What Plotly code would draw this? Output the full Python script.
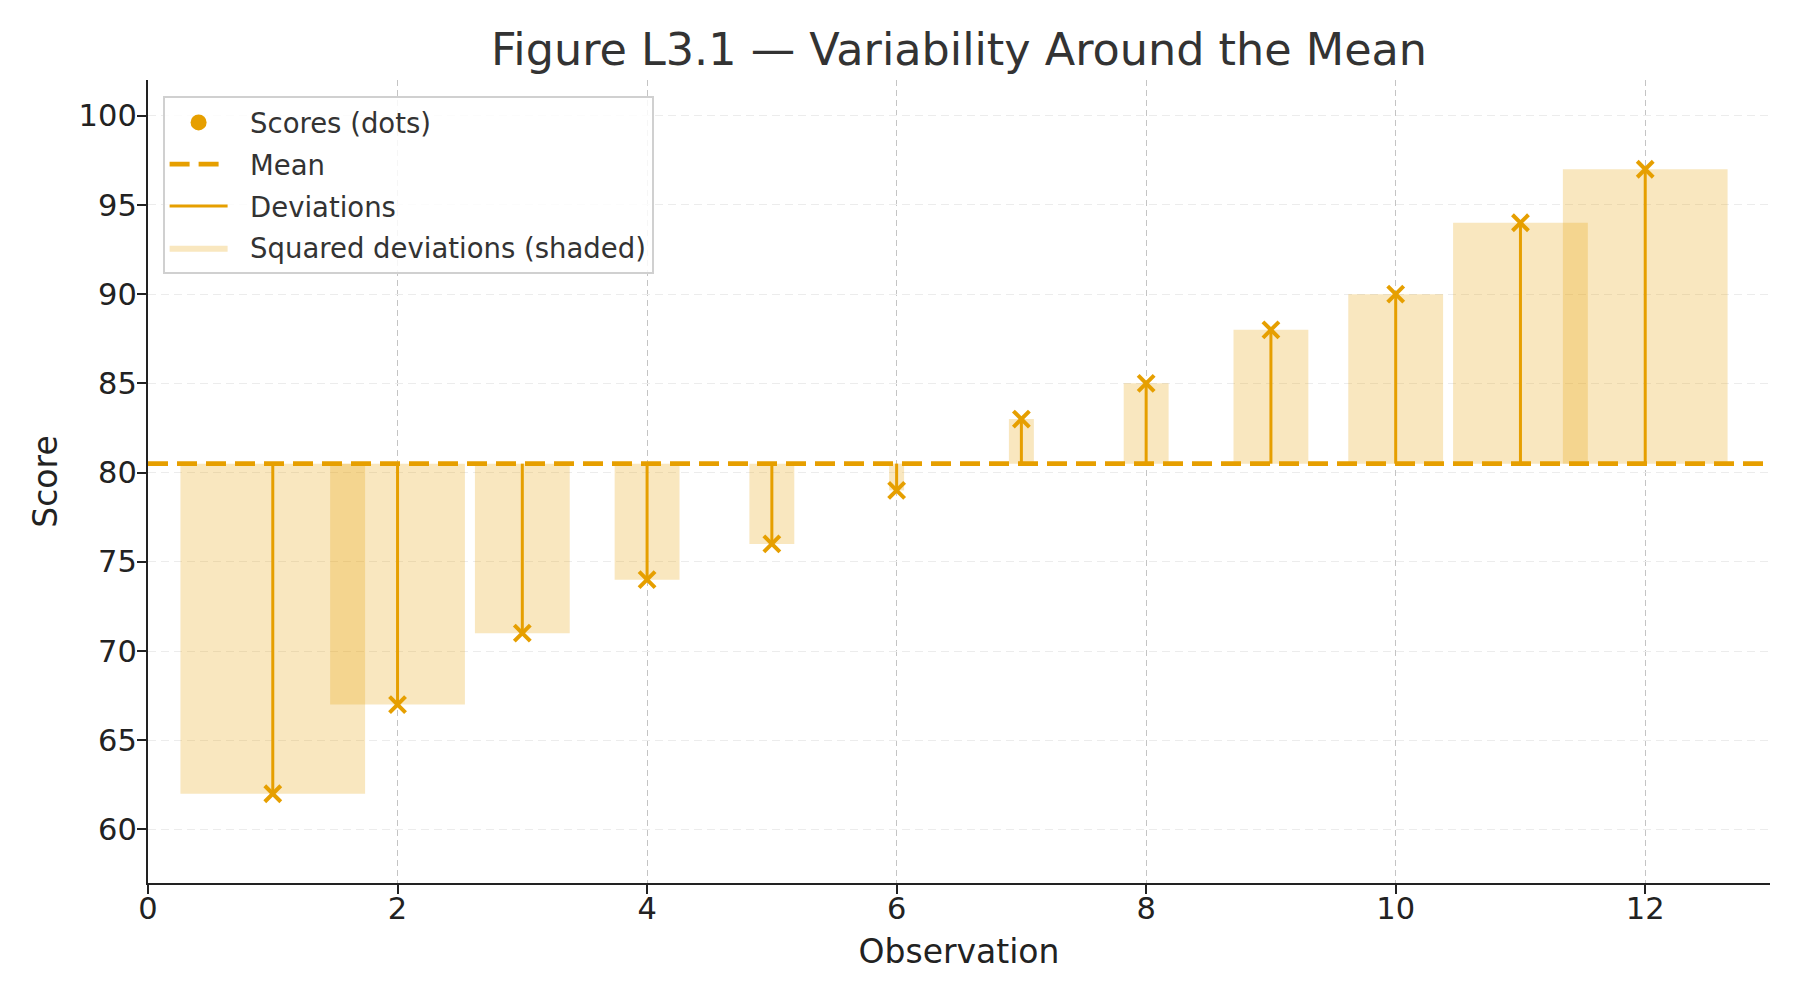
import numpy as np
import plotly.graph_objects as go

# ---- data ----
observations = [1, 2, 3, 4, 5, 6, 7, 8, 9, 10, 11, 12]
scores = [62, 67, 71, 74, 76, 79, 83, 85, 88, 90, 94, 97]
x_ticks = [0, 2, 4, 6, 8, 10, 12]
y_ticks = [60, 65, 70, 75, 80, 85, 90, 95, 100]
X_RANGE = [0, 13]
Y_RANGE = [57, 102]
WIDTH_PER_POINT = 0.08  # rectangle width per unit of |deviation|

title_text = "Figure L3.1 — Variability Around the Mean"
x_label = "Observation"
y_label = "Score"
legend_names = ["Scores (dots)", "Mean", "Deviations", "Squared deviations (shaded)"]

ORANGE = "#E69F00"
FILL = "rgba(230,159,0,0.25)"
FONT = "DejaVu Sans"
PAD = "\u00a0\u00a0"

mean = float(np.mean(scores))

fig = go.Figure()

# squared deviation rectangles
for i, (x, s) in enumerate(zip(observations, scores)):
    dev = s - mean
    hw = abs(dev) * WIDTH_PER_POINT / 2
    fig.add_trace(go.Scatter(
        x=[x - hw, x + hw, x + hw, x - hw, x - hw],
        y=[mean, mean, s, s, mean],
        mode="lines", fill="toself", fillcolor=FILL,
        line=dict(width=0, color=FILL),
        name=PAD + legend_names[3],
        legendgroup="sq", showlegend=(i == 0), legendrank=4,
        hoverinfo="skip",
    ))

# deviations
dx, dy = [], []
for x, s in zip(observations, scores):
    dx += [x, x, None]
    dy += [mean, s, None]
fig.add_trace(go.Scatter(
    x=dx, y=dy, mode="lines", line=dict(color=ORANGE, width=3),
    name=PAD + legend_names[2], legendgroup="dev", legendrank=3,
))

# mean line
fig.add_trace(go.Scatter(
    x=X_RANGE, y=[mean, mean], mode="lines",
    line=dict(color=ORANGE, width=4.8, dash="20px,9px"),
    name=PAD + legend_names[1], legendgroup="mean", legendrank=2,
))

# scores (x markers)
fig.add_trace(go.Scatter(
    x=observations, y=scores, mode="markers",
    marker=dict(symbol="x-thin", size=16, color=ORANGE,
                line=dict(color=ORANGE, width=4)),
    name=legend_names[0], showlegend=False,
))
# legend entry (dot)
fig.add_trace(go.Scatter(
    x=[None], y=[None], mode="markers",
    marker=dict(symbol="circle", size=16, color=ORANGE),
    name=PAD + legend_names[0], legendgroup="sc", legendrank=1,
))

fig.update_layout(
    width=1800, height=1000,
    margin=dict(l=148, r=30, t=80, b=117),
    paper_bgcolor="white", plot_bgcolor="white",
    font=dict(family=FONT, color="#222222"),
    title=dict(text=title_text, x=0.5, xref="paper", xanchor="center",
               y=1 - 49 / 1000, yref="container", yanchor="middle",
               font=dict(size=44.5, color="#333333", family=FONT)),
    legend=dict(x=0.009, y=0.98, xanchor="left", yanchor="top",
                bgcolor="rgba(255,255,255,0.85)", bordercolor="#d0d0d0",
                borderwidth=2, font=dict(size=27.5, color="#333333", family=FONT),
                itemwidth=58, tracegroupgap=3),
    showlegend=True,
)

fig.update_xaxes(
    range=X_RANGE, tickvals=x_ticks, ticktext=[str(v) for v in x_ticks],
    showline=True, linecolor="#222222", linewidth=2.2,
    ticks="outside", ticklen=9, tickwidth=2, tickcolor="#222222",
    tickfont=dict(size=30.5, family=FONT, color="#222222"),
    ticklabelstandoff=-12,
    showgrid=True, gridcolor="#c4c4c4", gridwidth=1.3, griddash="6px,4px",
    zeroline=False,
    title=dict(text=x_label, font=dict(size=33, family=FONT, color="#222222"), standoff=15),
)
fig.update_yaxes(
    range=Y_RANGE, tickvals=y_ticks, ticktext=[str(v) for v in y_ticks],
    showline=True, linecolor="#222222", linewidth=2.2,
    ticks="outside", ticklen=9, tickwidth=2, tickcolor="#222222",
    tickfont=dict(size=30.5, family=FONT, color="#222222"),
    ticklabelstandoff=-6,
    showgrid=True, gridcolor="#ececec", gridwidth=1.3, griddash="8px,5px",
    zeroline=False,
    title=dict(text=y_label, font=dict(size=33, family=FONT, color="#222222"), standoff=11),
)

fig.write_html("out.html")
